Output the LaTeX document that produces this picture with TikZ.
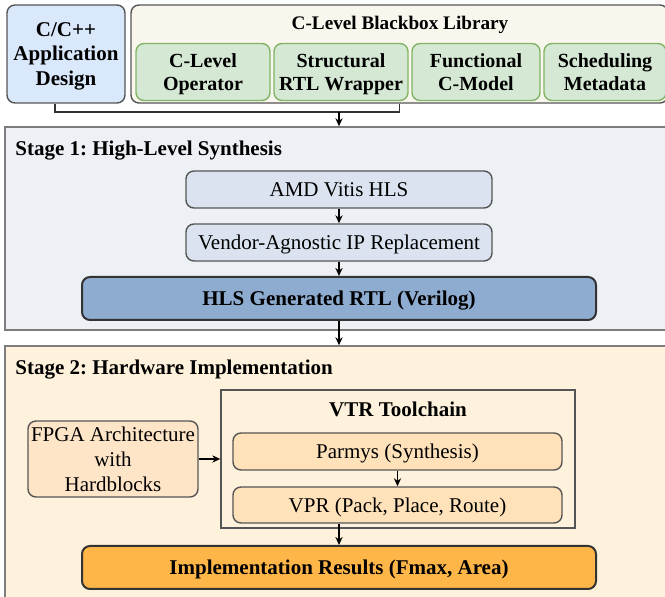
\documentclass[tikz,border=0pt]{standalone}
\usepackage{fontspec}
\setmainfont{Liberation Serif}
\frenchspacing
\usetikzlibrary{arrows.meta}
\definecolor{appblue}{RGB}{218, 232, 252}
\definecolor{libcream}{RGB}{249, 247, 237}
\definecolor{partgreen}{RGB}{213, 232, 212}
\definecolor{partline}{RGB}{130, 179, 102}
\definecolor{hlsgray}{RGB}{237, 240, 245}
\definecolor{hlsblue}{RGB}{218, 227, 239}
\definecolor{rtlblue}{RGB}{142, 172, 208}
\definecolor{implcream}{RGB}{255, 242, 220}
\definecolor{archpeach}{RGB}{255, 229, 200}
\definecolor{vtrpeach}{RGB}{255, 226, 185}
\definecolor{resorange}{RGB}{255, 182, 72}
\definecolor{boxline}{RGB}{85, 85, 85}
\definecolor{stageline}{RGB}{125, 125, 125}

\begin{document}
\begin{tikzpicture}[x=0.5pt, y=-0.5pt,
    box/.style   ={draw=boxline, line width=0.7pt, rounded corners=4pt, align=center, inner sep=1pt,
                   text depth=0pt, font=\fontsize{10.5}{12.6}\selectfont},
    appbox/.style ={box, fill=appblue, font=\fontsize{10.5}{12.3}\selectfont\bfseries},
    partbox/.style={box, draw=partline, fill=partgreen, minimum height=28.5pt, font=\fontsize{10}{11.8}\selectfont\bfseries},
    toolbox/.style={box, fill=hlsblue, minimum width=153pt, minimum height=18.5pt},
    vtrbox/.style ={box, fill=vtrpeach, minimum width=164.5pt, minimum height=18.5pt},
    outbox/.style ={box, line width=1pt, draw=black!80, minimum width=257pt, minimum height=21.5pt,
                   font=\fontsize{10.5}{12.6}\selectfont\bfseries},
    stagebox/.style={draw=stageline, line width=0.7pt, minimum width=332.5pt},
    heading/.style={inner sep=0pt, font=\fontsize{10.5}{12.6}\selectfont\bfseries},
    flow/.style   ={draw=black, line width=0.7pt, -{Stealth[length=4pt, width=3.6pt]}}]
\clip (0,0) rectangle (665,597);

\node[appbox, minimum width=59pt, minimum height=49pt]              (app)     at ( 66.0, 54.0) {C/C++\\Application\\Design};
\node[box, fill=libcream, minimum width=268.5pt, minimum height=49pt] (lib)    at (399.5, 54.0) {};
\node[heading, font=\fontsize{9.6}{11}\selectfont\bfseries]         (libname) at (400.0, 24.5) {C-Level Blackbox Library};
\node[partbox, minimum width=67pt]                                   (oper)    at (203.0, 72.0) {C-Level\\Operator};
\node[partbox, minimum width=67pt]                                   (wrap)    at (341.0, 72.0) {Structural\\RTL Wrapper};
\node[partbox, minimum width=64pt]                                   (cmodel)  at (476.0, 72.0) {Functional\\C-Model};
\node[partbox, minimum width=61pt]                                   (sched)   at (605.0, 72.0) {Scheduling\\Metadata};

\node[stagebox, fill=hlsgray, minimum height=101.5pt]                (hls)     at (337.5,228.5) {};
\node[heading, anchor=west]                                          (hlsname) at ( 15.0,150.5) {Stage 1: High-Level Synthesis};
\node[toolbox]                                                       (vitis)   at (339.0,189.5) {AMD Vitis HLS};
\node[toolbox]                                                       (vendor)  at (339.0,242.5) {Vendor-Agnostic IP Replacement};
\node[outbox, fill=rtlblue]                                          (rtl)     at (339.0,298.5) {HLS Generated RTL (Verilog)};

\node[stagebox, fill=implcream, minimum height=129.5pt]              (impl)    at (337.5,475.5) {};
\node[heading, anchor=west]                                          (implname) at ( 15.0,369.5) {Stage 2: Hardware Implementation};
\node[draw=boxline, line width=0.7pt, minimum width=177pt, minimum height=69pt] (vtr) at (398.0,459.0) {};
\node[heading]                                                       (vtrname) at (398.0,409.0) {VTR Toolchain};
\node[box, fill=archpeach, minimum width=85pt, minimum height=38pt] (arch)    at (113.0,459.0) {FPGA Architecture\\with\\Hardblocks};
\node[vtrbox]                                                        (parmys)  at (397.5,451.5) {Parmys (Synthesis)};
\node[vtrbox, minimum height=18pt]                                   (vpr)     at (397.5,505.0) {VPR (Pack, Place, Route)};
\node[outbox, fill=resorange]                                        (res)     at (339.0,567.5) {Implementation Results (Fmax, Area)};

\coordinate (bus) at (339.0,112.0);
\draw[draw=black!80, line width=0.7pt] ([xshift=-5.5pt]app.south) |- (bus) -| (lib.south);
\draw[flow] (bus)             -- (hls.north -| bus);
\draw[flow] (vitis.south)     -- (vendor.north);
\draw[flow] (vendor.south)    -- (rtl.north);
\draw[flow] (rtl.south)       -- (impl.north -| rtl.south);
\draw[flow] (arch.east)       -- (vtr.west);
\draw[flow] (parmys.south)    -- (vpr.north);
\draw[flow] (vpr.south -| res.north) -- (res.north);
\end{tikzpicture}
\end{document}
